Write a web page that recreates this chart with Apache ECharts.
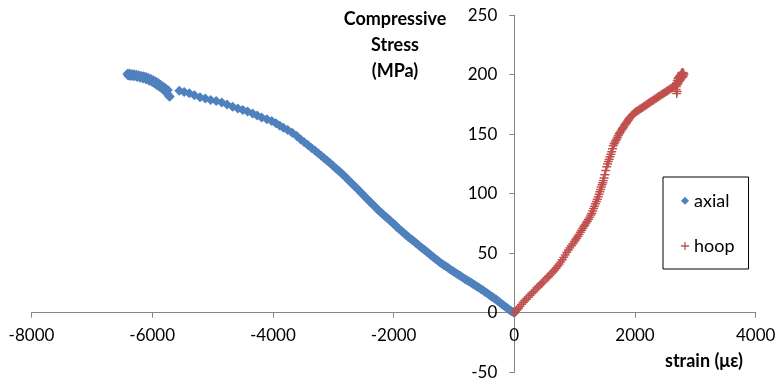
<!DOCTYPE html>
<html>
<head>
<meta charset="utf-8">
<script src="https://cdn.jsdelivr.net/npm/echarts@6/dist/echarts.min.js"></script>
<style>
  html, body { margin: 0; padding: 0; background: #fff; }
  #chart { width: 777px; height: 385px; }
</style>
</head>
<body>
<div id="chart"></div>
<script>
// Axis ranges and ticks
const xTicks = { min: -8000, max: 4000, step: 2000 };
const yTicks = { min: -50, max: 250, step: 50 };

// Labels
const yTitle = 'Compressive\nStress\n(MPa)';
const xTitle = 'strain (\u03bc\u03b5)';
const seriesNames = ['axial', 'hoop'];

// Axial strain (με) vs. compressive stress (MPa)
const axialStrain = [
  0, -20, -45, -70, -95, -120, -150, -180, -210, -240, -270, -300, -330, -360, -390,
  -420, -455, -490, -520, -555, -590, -620, -655, -690, -720, -755, -790, -820, -855,
  -890, -925, -960, -995, -1030, -1065, -1100, -1135, -1170, -1205, -1240, -1275,
  -1310, -1345, -1380, -1415, -1450, -1485, -1520, -1555, -1590, -1625, -1660, -1695,
  -1730, -1765, -1800, -1835, -1870, -1905, -1940, -1975, -2010, -2045, -2080, -2115,
  -2150, -2190, -2225, -2260, -2295, -2335, -2370, -2410, -2450, -2490, -2530, -2570,
  -2610, -2650, -2690, -2730, -2770, -2815, -2860, -2905, -2950, -3000, -3050, -3100,
  -3150, -3200, -3250, -3300, -3360, -3420, -3480, -3540, -3605, -3680, -3755, -3825,
  -3885, -3950, -4020, -4100, -4186, -4260, -4335, -4420, -4500, -4580, -4666, -4760,
  -4848, -4940, -5031, -5120, -5208, -5300, -5385, -5470, -5551,
  -5740, -5780, -5820, -5860, -5900, -5940, -5980, -6020, -6060, -6100, -6140, -6180,
  -6220, -6260, -6300, -6340, -6380, -6410,
  -6400, -6370, -6340, -6300, -6250, -6200, -6150, -6100, -6050, -6000, -5960, -5920,
  -5880, -5840, -5800, -5770, -5745, -5725, -5710
];
const axialStress = [
  0, 0.5, 1.2, 2, 3, 4, 5, 6.2, 7.3, 8.5, 9.8, 11, 12, 13.1, 14.1,
  15.2, 16.5, 17.7, 18.8, 20, 21.1, 22, 23.2, 24.3, 25.3, 26.4, 27.5, 28.4, 29.6,
  30.8, 31.9, 33, 34.2, 35.3, 36.6, 37.7, 39, 40.1, 41.3, 42.6, 44,
  45.4, 46.8, 48.2, 49.8, 51.2, 52.6, 54, 55.4, 56.9, 58.4, 59.8, 61.2,
  62.6, 64, 65.6, 67.1, 68.7, 70.2, 71.9, 73.6, 75.2, 76.8, 78.4, 79.9,
  81.5, 83.3, 84.9, 86.6, 88.4, 90.3, 92.2, 94.1, 96.1, 98.2, 100.3, 102.4,
  104.5, 106.5, 108.5, 110.5, 112.5, 114.8, 117, 119, 121, 123.3, 125.5, 127.6,
  129.7, 131.8, 133.9, 136, 138.5, 140.9, 143.3, 145.6, 148.5, 151.2, 153.6, 155.5,
  157, 159.2, 161, 162.5, 164.1, 165.8, 167.5, 169, 170.3, 171.7, 173, 175,
  176.7, 177.8, 178.7, 180, 181, 182.8, 184.4, 185.5, 186.6,
  187.2, 188.6, 190, 191.6, 193, 194.3, 195.4, 196.3, 197.2, 198, 198.6, 199,
  199.5, 200, 200.4, 200.6, 201, 200.8,
  199.4, 199.2, 199, 198.6, 198.1, 197.5, 196.8, 196, 195, 193.8, 192.6, 191.2,
  189.8, 188.3, 186.8, 185.3, 183.8, 182.3, 181.5
];

// Hoop strain (με) vs. compressive stress (MPa)
const hoopStrain = [
  0, 20, 45, 70, 95, 120, 149, 175, 200, 230, 260, 290, 315, 345, 375, 400, 430, 455,
  481, 510, 540, 565, 590, 620, 645, 670, 695, 720, 745, 770, 795, 820, 845, 870, 895,
  920, 945, 970, 995, 1015, 1034, 1055, 1075, 1095, 1115, 1135, 1155, 1171, 1190, 1210,
  1230, 1250, 1268, 1283, 1300, 1315, 1330, 1345, 1360, 1375, 1392, 1405, 1418, 1430,
  1442, 1455, 1466, 1477, 1488, 1500, 1515, 1531, 1545, 1558, 1572, 1586, 1600, 1614,
  1627, 1640, 1655, 1670, 1685, 1697, 1712, 1725, 1738, 1751, 1765, 1780, 1793, 1806,
  1820, 1835, 1848, 1862, 1876, 1890, 1903, 1917, 1937, 1958, 1980, 2000, 2020, 2042,
  2063, 2083, 2104, 2125, 2146, 2166, 2186, 2206, 2226, 2245, 2266, 2288, 2310, 2331,
  2352, 2372, 2393, 2414, 2435, 2456, 2476, 2497, 2518, 2538, 2559, 2580, 2601, 2622,
  2642, 2663, 2691, 2680, 2700,
  2685, 2700, 2715, 2730, 2745, 2760, 2775, 2790, 2805, 2810, 2795, 2780, 2765, 2750,
  2735, 2720, 2710, 2700, 2690, 2770, 2785, 2800
];
const hoopStress = [
  0, 1, 2.4, 3.8, 5.3, 7, 8.8, 10.2, 11.5, 13.1, 14.7, 16.2, 17.6, 19.2, 20.7, 22, 23.5, 24.8,
  26.1, 27.6, 29.1, 30.3, 31.6, 33.1, 34.6, 36.1, 37.6, 39.2, 40.8, 42.5, 44.5, 46.5, 48.6, 50.7, 52.7,
  54.5, 56.3, 58, 59.8, 61.2, 62.5, 64.2, 65.8, 67.6, 69.3, 71, 72.6, 73.7, 75.3, 76.9,
  78.6, 80.3, 82, 83.4, 85.4, 87.5, 89.5, 91.5, 93.5, 95.4, 97.5, 99.6, 101.6, 103.6,
  105.6, 107.5, 109.2, 111, 113.2, 116, 119.5, 122.7, 125, 127, 129, 131.1, 133.2, 135.3,
  137.8, 140.3, 142, 143.4, 144.8, 145.9, 147.5, 149, 150.3, 151.5, 152.6, 153.8, 154.8, 155.7,
  156.8, 157.9, 158.9, 159.9, 161, 162, 163, 164.1, 165.2, 166.3, 167.3, 168.3, 169, 169.8,
  170.4, 171.1, 171.8, 172.5, 173.2, 173.9, 174.6, 175.3, 176, 176.7, 177.4, 178.1, 178.8, 179.5,
  180.2, 181, 181.7, 182.4, 183.1, 183.8, 184.4, 185.1, 185.8, 186.5, 187.2, 187.9, 188.6, 189.3,
  190, 190.7, 184.2, 187.5, 186,
  190, 191.5, 193, 194.5, 195.5, 196.5, 197.5, 198.2, 199, 200.5, 200.8, 200.4, 200, 199.3,
  198.5, 197.5, 196.5, 195, 193, 201.2, 201.8, 201.5
];

const FONT = 'Lato, "Open Sans", sans-serif';
const AXIS_GREY = '#868686';
const PLUS = 'path://M0,4.2H10V5.8H0Z M4.2,0H5.8V10H4.2Z';

// Plot area in pixels
const W = 777, H = 385;
const GRID = { left: 31.5, right: 21.3, top: 15.2, bottom: 12.8 };

function pairs(xs, ys) {
  return xs.map((x, i) => [x, ys[i]]);
}

// Plain integers, no thousands separator
const plainNumber = (v) => String(v);

// Offsets that move each axis (line, ticks and labels) onto the other axis' zero
const plotW = W - GRID.left - GRID.right;
const plotH = H - GRID.top - GRID.bottom;
const yAxisShift = plotW * (0 - xTicks.min) / (xTicks.max - xTicks.min);
const xAxisShift = plotH * (0 - yTicks.min) / (yTicks.max - yTicks.min);

const chart = echarts.init(document.getElementById('chart'), null, { renderer: 'canvas' });

chart.setOption({
  animation: false,
  backgroundColor: '#ffffff',
  grid: {
    left: GRID.left, right: GRID.right, top: GRID.top, bottom: GRID.bottom,
    containLabel: false,
    outerBoundsMode: 'none'
  },
  xAxis: {
    type: 'value', position: 'bottom', offset: -xAxisShift,
    min: xTicks.min, max: xTicks.max, interval: xTicks.step,
    axisLine: { onZero: false, lineStyle: { color: AXIS_GREY, width: 1 } },
    axisTick: { show: true, length: 5, lineStyle: { color: AXIS_GREY } },
    axisLabel: { margin: 14, fontFamily: FONT, fontSize: 17, color: '#000', formatter: plainNumber },
    splitLine: { show: false }
  },
  yAxis: {
    type: 'value', position: 'left', offset: -yAxisShift,
    min: yTicks.min, max: yTicks.max, interval: yTicks.step,
    axisLine: { onZero: false, lineStyle: { color: AXIS_GREY, width: 1 } },
    axisTick: { show: true, length: 5, lineStyle: { color: AXIS_GREY } },
    axisLabel: { margin: 17, fontFamily: FONT, fontSize: 17, color: '#000', formatter: plainNumber },
    splitLine: { show: false }
  },
  legend: {
    data: seriesNames,
    orient: 'vertical',
    left: 663, top: 177,
    padding: [13.7, 14, 13, 18],
    itemGap: 25.3,
    itemWidth: 8, itemHeight: 8,
    borderColor: '#000', borderWidth: 1,
    textStyle: { fontFamily: FONT, fontSize: 18, color: '#000', lineHeight: 20 }
  },
  graphic: [
    {
      type: 'text', position: [395, 6],
      style: {
        text: yTitle, align: 'center',
        font: 'bold 18px ' + FONT, lineHeight: 26, fill: '#000'
      }
    },
    {
      type: 'text', position: [704, 361],
      style: {
        text: xTitle, align: 'center', verticalAlign: 'middle',
        font: 'bold 18px ' + FONT, fill: '#000'
      }
    }
  ],
  series: [
    {
      name: seriesNames[0], type: 'scatter',
      data: pairs(axialStrain, axialStress),
      symbol: 'diamond', symbolSize: 10,
      itemStyle: { color: '#4F81BD', opacity: 1 },
      z: 3
    },
    {
      name: seriesNames[1], type: 'scatter',
      data: pairs(hoopStrain, hoopStress),
      symbol: PLUS, symbolSize: 9,
      itemStyle: { color: '#C0504D', opacity: 1 },
      z: 4
    }
  ]
});
</script>
</body>
</html>
